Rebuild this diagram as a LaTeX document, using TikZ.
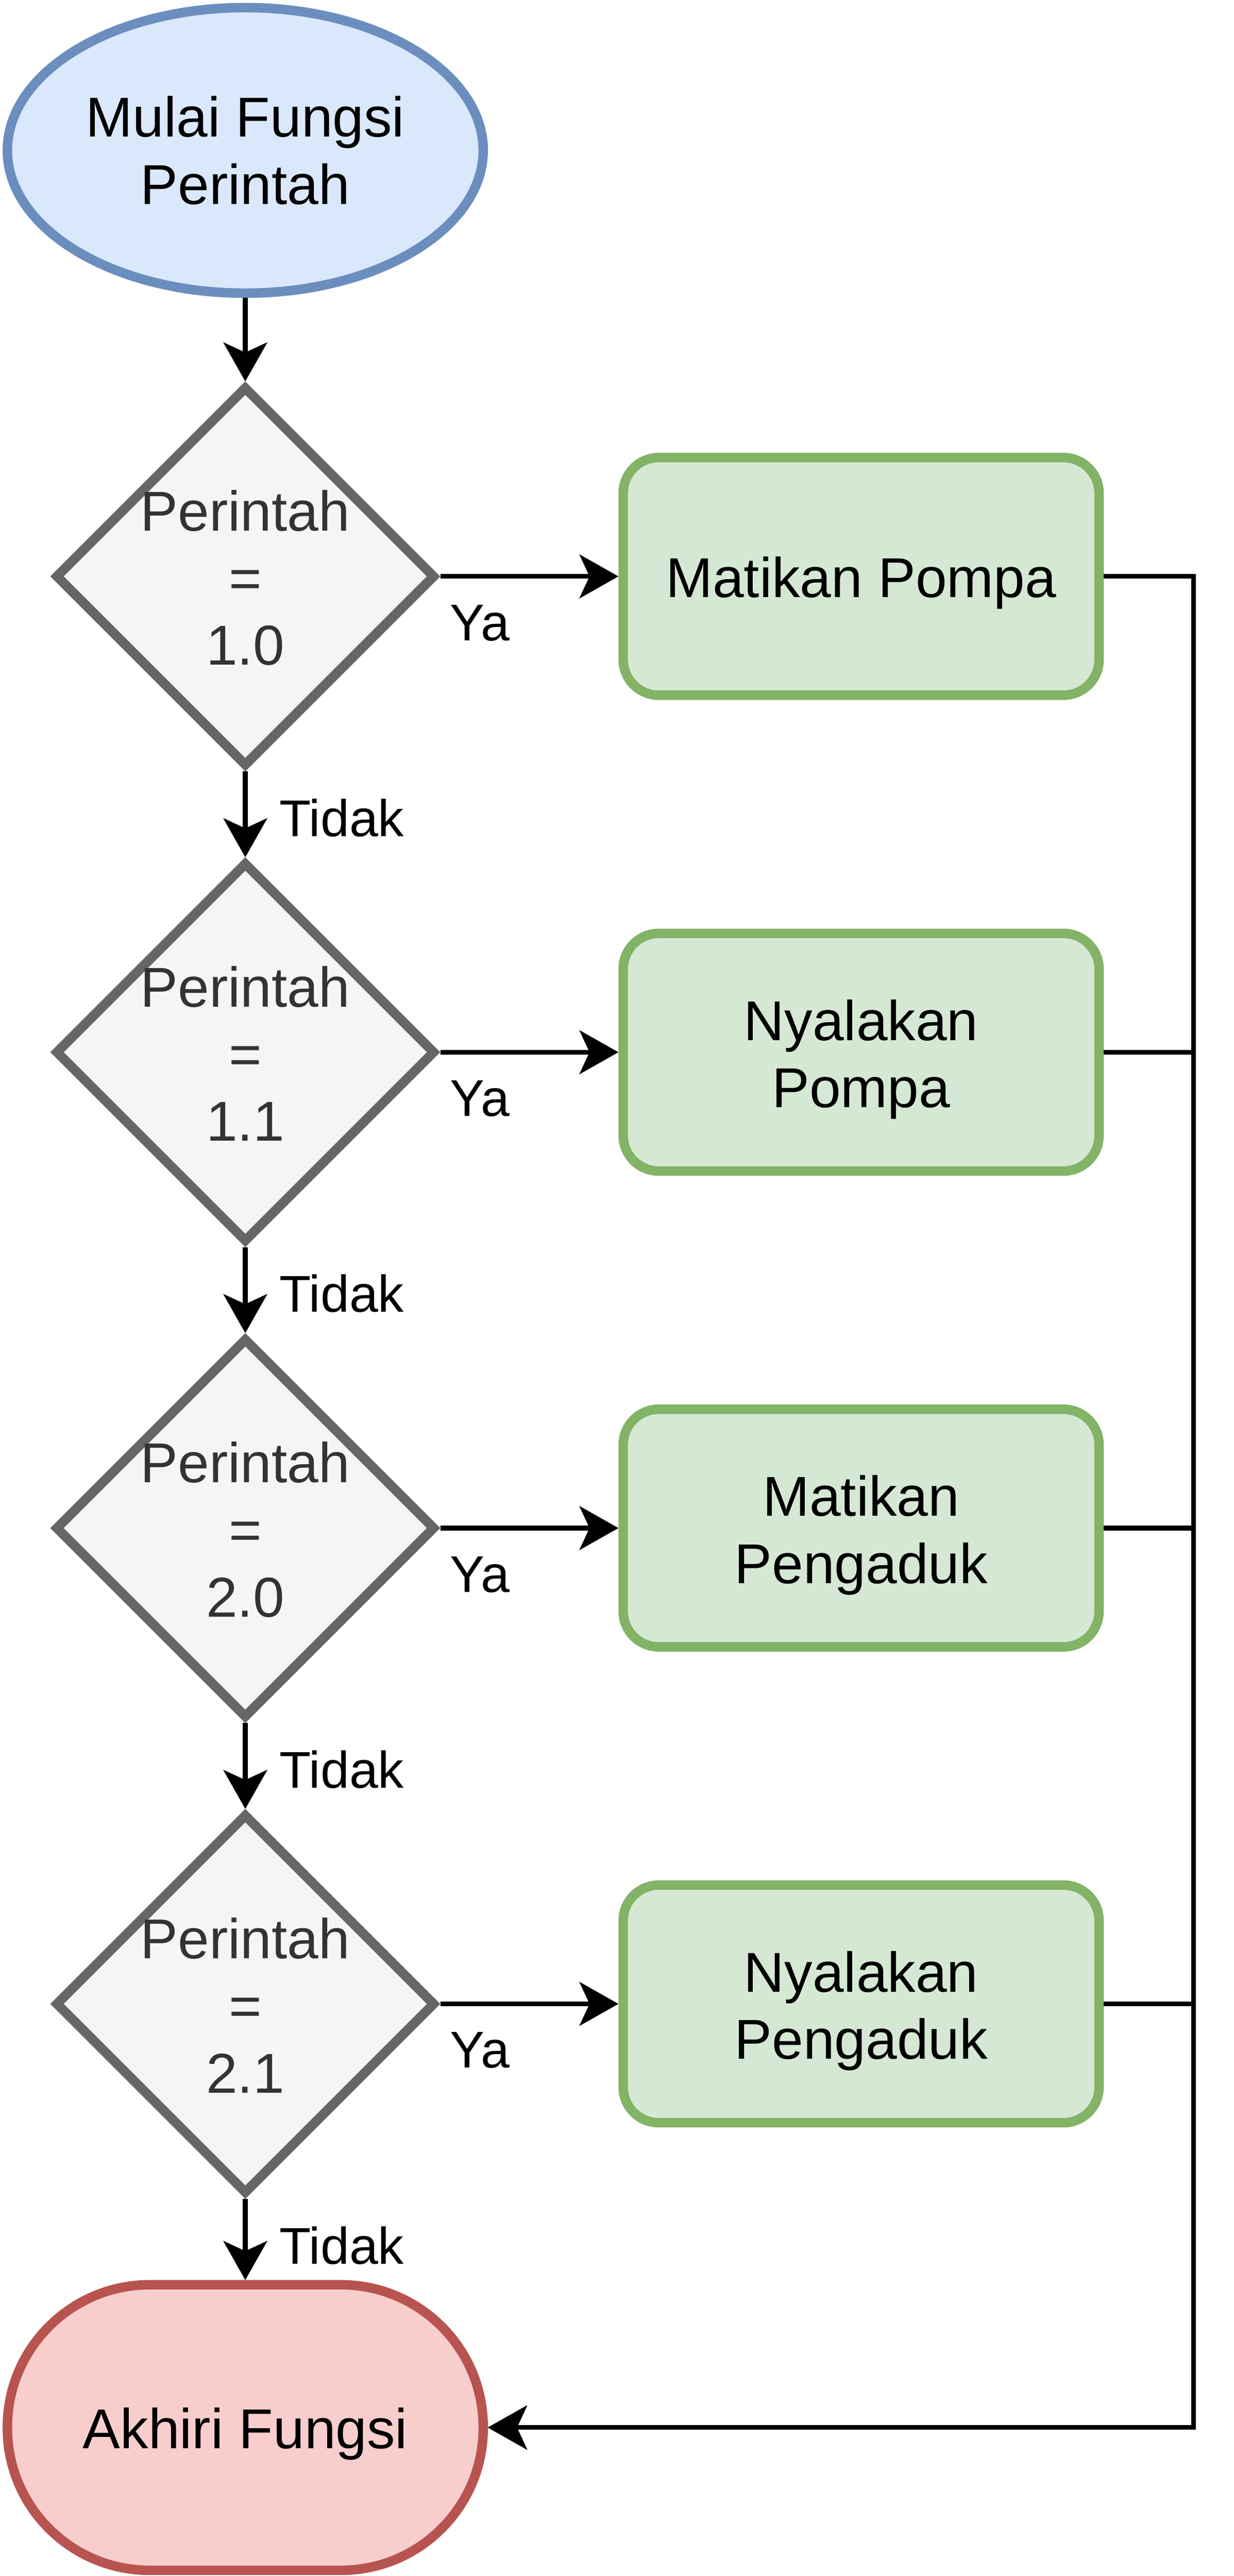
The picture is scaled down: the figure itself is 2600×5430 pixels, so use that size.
\documentclass[tikz,border=0pt]{standalone}
\usepackage{fontspec}
\setmainfont{Liberation Sans}
\usetikzlibrary{shapes.geometric,arrows.meta}
\definecolor{stfill}{HTML}{DAE8FC}
\definecolor{stline}{HTML}{6C8EBF}
\definecolor{dcfill}{HTML}{F5F5F5}
\definecolor{dcline}{HTML}{666666}
\definecolor{dctext}{HTML}{333333}
\definecolor{acfill}{HTML}{D5E8D4}
\definecolor{acline}{HTML}{82B366}
\definecolor{enfill}{HTML}{F8CECC}
\definecolor{enline}{HTML}{B85450}
\newcommand{\lowered}[1]{\raisebox{-1.4pt}[\height][\depth]{#1}}
\begin{document}
\begin{tikzpicture}[x=0.1pt,y=-0.1pt,
  mainfont/.style={font=\fontsize{11.85pt}{14.15pt}\selectfont},
  startnode/.style={ellipse, draw=stline, fill=stfill, line width=2pt,
    minimum width=100.3pt, minimum height=60.2pt, inner sep=0pt,
    mainfont, align=center},
  decision/.style={diamond, draw=dcline, fill=dcfill, line width=2pt,
    minimum width=80.2pt, minimum height=80.2pt, inner sep=0pt},
  dtext/.style={mainfont, text=dctext, align=center, inner sep=0pt, yshift=-0.3pt},
  action/.style={rectangle, rounded corners=7.5pt, draw=acline, fill=acfill,
    line width=2pt, minimum width=100.3pt, minimum height=50.1pt,
    inner sep=0pt, mainfont, align=center},
  atext/.style={mainfont, align=center, inner sep=0pt, yshift=-1.5pt},
  endnode/.style={rectangle, rounded corners=30pt, draw=enline, fill=enfill,
    line width=2pt, minimum width=100.3pt, minimum height=60.2pt,
    inner sep=0pt, mainfont, align=center},
  lbl/.style={font=\fontsize{10.9pt}{13pt}\selectfont, inner sep=0pt, anchor=base west},
  conn/.style={line width=1pt, draw=black},
  arr/.style={conn, -{Stealth[length=8.2pt, width=9.2pt, inset=2.1pt]}}
]
\useasboundingbox (0,0) rectangle (2600,5430);

% shapes
\node[startnode] (start) at (517,317) {Mulai Fungsi\\Perintah};

\node[decision] (d1) at (517,1215) {};
\node[decision] (d2) at (517,2218) {};
\node[decision] (d3) at (517,3221) {};
\node[decision] (d4) at (517,4224) {};

\node[dtext] (t1) at (d1.center) {Perintah\\=\\1.0};
\node[dtext] (t2) at (d2.center) {Perintah\\=\\1.1};
\node[dtext] (t3) at (d3.center) {Perintah\\=\\2.0};
\node[dtext] (t4) at (d4.center) {Perintah\\=\\2.1};

\node[action] (r1) at (1815,1215) {\lowered{Matikan Pompa}};
\node[action] (r2) at (1815,2218) {};
\node[action] (r3) at (1815,3221) {};
\node[action] (r4) at (1815,4224) {};
\node[atext] (rt2) at (r2.center) {Nyalakan\\Pompa};
\node[atext] (rt3) at (r3.center) {Matikan\\Pengaduk};
\node[atext] (rt4) at (r4.center) {Nyalakan\\Pengaduk};

\node[endnode] (end) at (517,5117) {\lowered{Akhiri Fungsi}};

\coordinate (rail) at (2516,0);

% connectors
\draw[arr] (start.south) -- (d1.north);
\draw[arr] (d1.south) -- (d2.north);
\draw[arr] (d2.south) -- (d3.north);
\draw[arr] (d3.south) -- (d4.north);
\draw[arr] (d4.south) -- (end.north);

\draw[arr] (d1.east) -- (r1.west);
\draw[arr] (d2.east) -- (r2.west);
\draw[arr] (d3.east) -- (r3.west);
\draw[arr] (d4.east) -- (r4.west);

\draw[arr] (r1.east) -- (r1.east -| rail) |- (end.east);
\draw[arr] (r2.east) -- (r2.east -| rail) |- (end.east);
\draw[arr] (r3.east) -- (r3.east -| rail) |- (end.east);
\draw[arr] (r4.east) -- (r4.east -| rail) |- (end.east);

% labels
\node[lbl] (ya1) at (947,1350) {Ya};
\node[lbl] (ya2) at (947,2353) {Ya};
\node[lbl] (ya3) at (947,3356) {Ya};
\node[lbl] (ya4) at (947,4359) {Ya};
\node[lbl] (no1) at (587,1763) {Tidak};
\node[lbl] (no2) at (587,2766) {Tidak};
\node[lbl] (no3) at (587,3769) {Tidak};
\node[lbl] (no4) at (587,4772) {Tidak};
\end{tikzpicture}
\end{document}
